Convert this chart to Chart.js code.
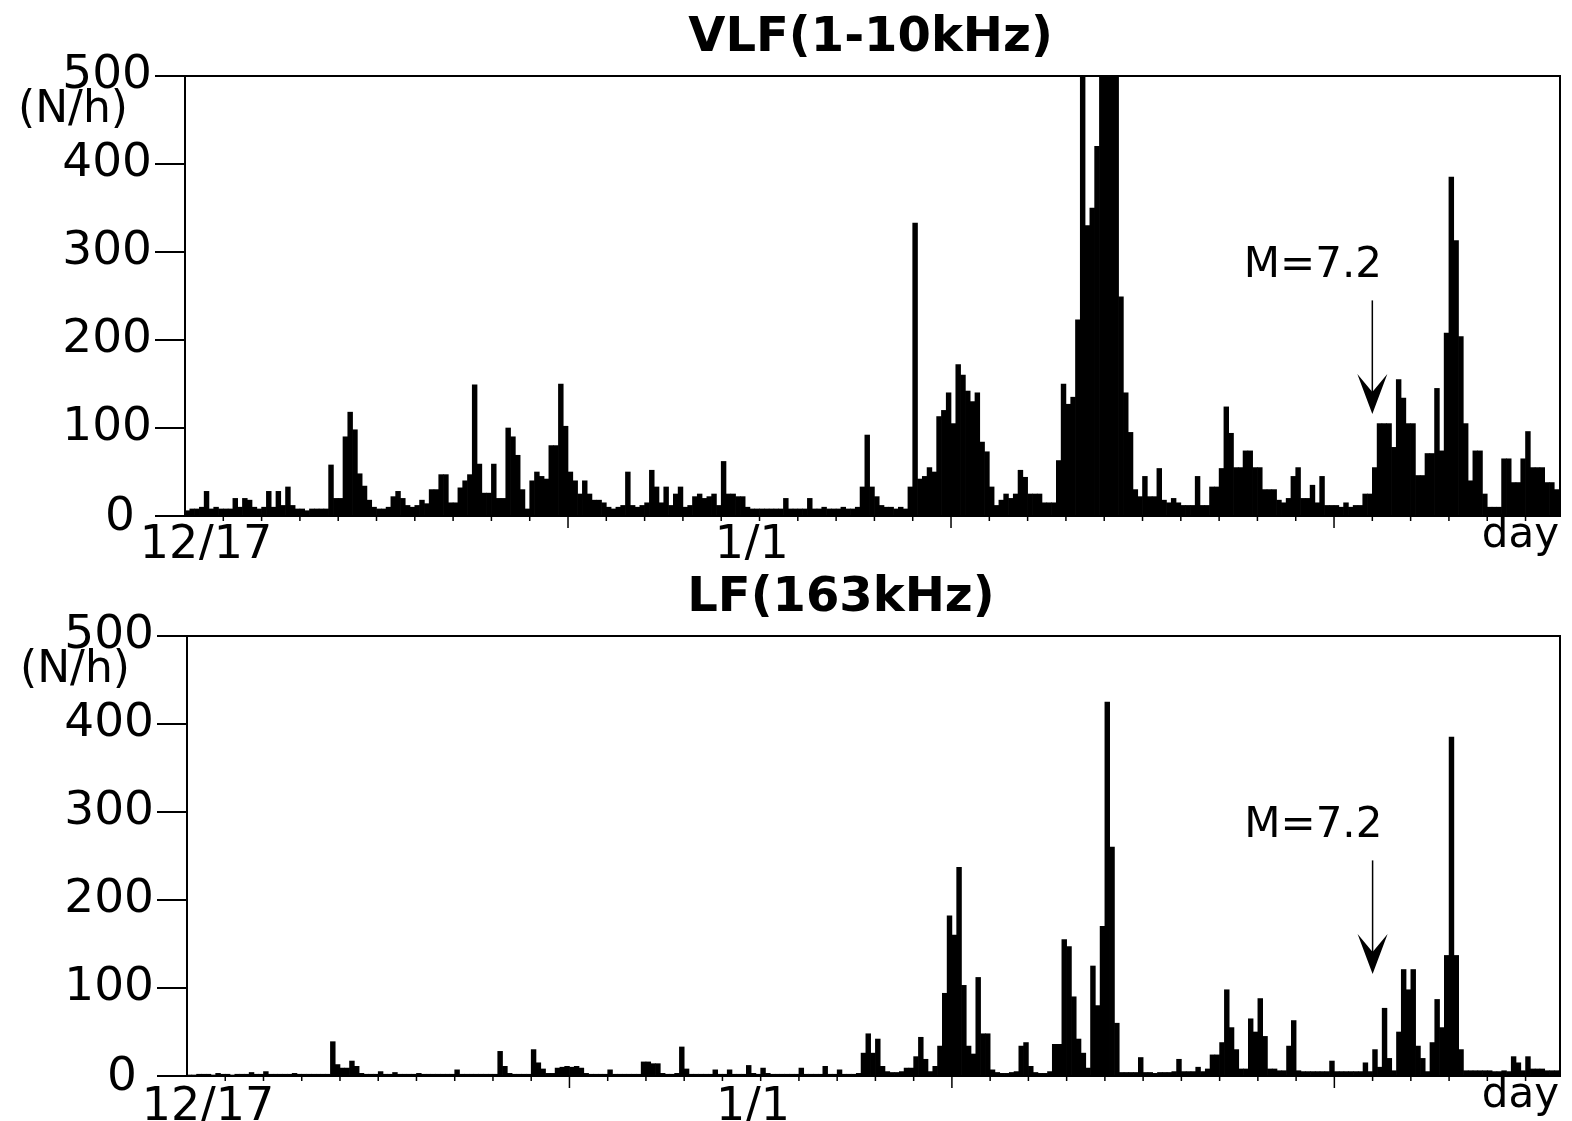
<!DOCTYPE html>
<html>
<head>
<meta charset="utf-8">
<script src="https://cdn.jsdelivr.net/npm/chart.js@4.4.1/dist/chart.umd.min.js"></script>
<style>
  body { margin: 0; background: #fff; }
  canvas { position: absolute; left: 0; }
</style>
</head>
<body>
<canvas id="vlf" width="1572" height="560" style="top:0"></canvas>
<canvas id="lf" width="1572" height="561" style="top:560px"></canvas>
<script>
// hourly counts (N/h) in 3-hour steps, 8 per day
// days 0-14 : 12/17 .. 12/31
const vlfDec = [
  6, 8, 8, 10, 28, 8, 10, 8,
  8, 8, 20, 10, 20, 18, 10, 8,
  10, 28, 10, 28, 12, 33, 12, 8,
  8, 6, 8, 8, 8, 8, 58, 20,
  20, 90, 118, 98, 48, 34, 18, 10,
  8, 8, 10, 22, 28, 20, 12, 10,
  12, 18, 14, 30, 30, 47, 47, 15,
  15, 32, 40, 47, 149, 59, 26, 26,
  59, 20, 20, 100, 90, 69, 30, 8,
  40, 50, 45, 42, 80, 80, 150, 102,
  50, 40, 25, 40, 25, 18, 18, 15,
  10, 8, 10, 12, 50, 12, 10, 12,
  15, 52, 33, 15, 33, 12, 25, 33,
  10, 12, 22, 25, 20, 22, 25, 12,
  62, 25, 25, 22, 22, 10, 8, 8
];
// days 15-35 : 1/1 .. 1/21
const vlfJan = [
  8, 8, 8, 8, 8, 20, 8, 8,
  8, 8, 20, 8, 8, 10, 8, 8,
  8, 10, 8, 8, 10, 33, 92, 33,
  22, 12, 10, 10, 8, 10, 8, 33,
  333, 42, 45, 55, 50, 113, 120, 140,
  105, 172, 160, 142, 130, 140, 84, 73,
  33, 12, 18, 25, 20, 25, 52, 44,
  25, 25, 25, 15, 15, 15, 63, 150,
  127, 135, 223, 540, 330, 350, 420, 540,
  540, 540, 540, 249, 140, 95, 30, 22,
  45, 22, 22, 54, 18, 15, 20, 15,
  12, 12, 12, 45, 12, 12, 33, 33,
  54, 124, 94, 55, 55, 74, 74, 55,
  55, 30, 30, 30, 18, 15, 20, 45,
  55, 20, 20, 35, 15, 45, 12, 12,
  12, 10, 15, 10, 12, 12, 25, 25,
  55, 105, 105, 105, 78, 155, 134, 105,
  105, 46, 46, 71, 71, 145, 74, 208,
  385, 313, 204, 105, 40, 74, 74, 25,
  10, 10, 10, 65, 65, 38, 38, 65,
  96, 55, 55, 55, 38, 38, 30, 25
];
const lfDec = [
  1, 1, 2, 2, 2, 1, 3, 2,
  2, 1, 2, 2, 2, 4, 2, 2,
  5, 2, 2, 2, 2, 2, 3, 2,
  2, 2, 2, 2, 2, 2, 39, 13,
  9, 9, 17, 11, 3, 2, 2, 2,
  5, 2, 2, 4, 2, 2, 2, 2,
  3, 2, 2, 2, 2, 2, 2, 2,
  7, 2, 2, 2, 2, 2, 2, 2,
  2, 28, 11, 3, 2, 2, 2, 2,
  30, 15, 8, 3, 3, 9, 10, 11,
  10, 11, 9, 3, 2, 2, 2, 2,
  7, 2, 2, 2, 2, 2, 2, 16,
  16, 14, 14, 3, 2, 2, 3, 33,
  8, 2, 2, 2, 2, 2, 7, 2,
  2, 7, 2, 2, 2, 12, 3, 2
];
const lfJan = [
  9, 3, 2, 2, 2, 2, 2, 2,
  9, 2, 2, 2, 2, 11, 2, 2,
  7, 2, 2, 2, 3, 26, 48, 26,
  42, 11, 5, 4, 4, 5, 9, 9,
  22, 44, 19, 5, 11, 34, 94, 182,
  160, 237, 103, 34, 25, 112, 48, 48,
  7, 4, 3, 3, 4, 5, 34, 38,
  11, 4, 3, 3, 5, 36, 36, 155,
  147, 90, 42, 26, 9, 125, 80, 170,
  425, 260, 60, 4, 4, 4, 4, 21,
  4, 4, 3, 4, 4, 4, 5, 19,
  5, 5, 5, 10, 5, 8, 24, 24,
  38, 98, 55, 30, 8, 8, 65, 50,
  88, 45, 8, 8, 6, 6, 34, 63,
  6, 5, 5, 5, 5, 5, 5, 17,
  5, 5, 5, 5, 5, 5, 15, 5,
  30, 10, 77, 20, 6, 50, 121, 98,
  121, 34, 20, 5, 38, 87, 55, 137,
  385, 137, 30, 6, 6, 6, 6, 6,
  6, 5, 5, 6, 5, 22, 15, 6,
  22, 8, 8, 8, 6, 6, 6, 6
];

const yTicks = [0, 100, 200, 300, 400, 500];
const dateLabels = ['12/17', '1/1'];
const dateLabelDays = [0.55, 14.8];
const quakeDay = 31.0;   // M=7.2 event
const quakeLabel = 'M=7.2';

const FONT = "'DejaVu Sans', 'Liberation Sans', sans-serif";

function toPoints(dec, jan) {
  const all = dec.concat(jan);
  return all.map(function(v, i) { return { x: i / 8 + 1 / 16, y: v }; });
}

function makePanel(id, title, titleDay, dec, jan, leftWidth, axisHeight, labelGap) {
  const ctxEl = document.getElementById(id);

  const panelText = {
    id: 'panelText',
    afterDraw: function(chart) {
      const ctx = chart.ctx;
      const a = chart.chartArea;
      const xs = chart.scales.x;
      const ys = chart.scales.y;
      ctx.save();
      ctx.fillStyle = '#000';
      ctx.strokeStyle = '#000';

      // frame
      ctx.lineWidth = 2;
      ctx.strokeRect(a.left, a.top, a.right - a.left, a.bottom - a.top);

      // day ticks
      ctx.lineWidth = 1.5;
      for (let d = 1; d < 36; d++) {
        const px = xs.getPixelForValue(d);
        const len = d % 10 === 0 ? 12 : 5;
        ctx.beginPath();
        ctx.moveTo(px, a.bottom);
        ctx.lineTo(px, a.bottom + len);
        ctx.stroke();
      }

      // title
      ctx.font = 'bold 48px ' + FONT;
      ctx.textAlign = 'center';
      ctx.textBaseline = 'middle';
      ctx.fillText(title, xs.getPixelForValue(titleDay), a.top - 37);

      // unit + zero label
      ctx.font = '44px ' + FONT;
      ctx.fillText('(N/h)', a.left - 112, a.top + 35);
      ctx.font = '47px ' + FONT;
      ctx.textAlign = 'right';
      ctx.fillText('0', a.left - 50, ys.getPixelForValue(0) + 2);

      // date labels
      ctx.font = '46px ' + FONT;
      ctx.textAlign = 'center';
      for (let i = 0; i < dateLabels.length; i++) {
        ctx.fillText(dateLabels[i], xs.getPixelForValue(dateLabelDays[i]), a.bottom + labelGap);
      }
      ctx.font = '42px ' + FONT;
      ctx.textAlign = 'right';
      ctx.fillText('day', a.right - 1, a.bottom + 20);

      // earthquake marker
      const qx = xs.getPixelForValue(quakeDay);
      ctx.font = '42px ' + FONT;
      ctx.textAlign = 'center';
      ctx.fillText(quakeLabel, xs.getPixelForValue(29.45), ys.getPixelForValue(284));
      const yTop = ys.getPixelForValue(245);
      const yTip = ys.getPixelForValue(116);
      ctx.lineWidth = 1.5;
      ctx.beginPath();
      ctx.moveTo(qx, yTop);
      ctx.lineTo(qx, yTip - 10);
      ctx.stroke();
      ctx.beginPath();
      ctx.moveTo(qx, yTip);
      ctx.lineTo(qx - 15, yTip - 40);
      ctx.lineTo(qx, yTip - 22);
      ctx.lineTo(qx + 15, yTip - 40);
      ctx.closePath();
      ctx.fill();
      ctx.restore();
    }
  };

  return new Chart(ctxEl, {
    type: 'bar',
    data: {
      datasets: [{
        data: toPoints(dec, jan),
        backgroundColor: '#000',
        borderWidth: 0,
        barPercentage: 1,
        categoryPercentage: 1
      }]
    },
    options: {
      responsive: false,
      animation: false,
      layout: { padding: { top: 76, right: 12, bottom: 0, left: 0 } },
      plugins: { legend: { display: false }, tooltip: { enabled: false } },
      scales: {
        x: {
          type: 'linear',
          offset: false,
          min: 0,
          max: 35.9,
          ticks: { display: false },
          grid: { display: false, offset: false },
          border: { display: false },
          afterFit: function(s) { s.height = axisHeight; }
        },
        y: {
          min: 0,
          max: 500,
          afterBuildTicks: function(s) { s.ticks = yTicks.map(function(v) { return { value: v }; }); },
          ticks: {
            color: '#000',
            padding: 3,
            font: { family: FONT, size: 47 },
            callback: function(v) { return v === 0 ? '' : String(v); }
          },
          grid: { drawOnChartArea: false, tickLength: 30, color: '#000', lineWidth: 2 },
          border: { display: false },
          afterFit: function(s) { s.width = leftWidth; }
        }
      }
    },
    plugins: [panelText]
  });
}

makePanel('vlf', 'VLF(1-10kHz)', 17.9, vlfDec, vlfJan, 185, 44, 30);
makePanel('lf', 'LF(163kHz)', 17.1, lfDec, lfJan, 187, 45, 32);
</script>
</body>
</html>
